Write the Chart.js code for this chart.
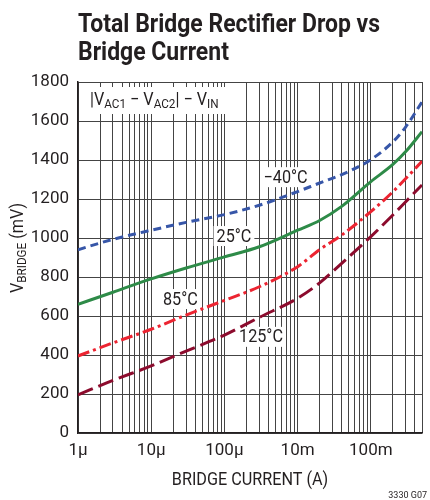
<!DOCTYPE html>
<html>
<head>
<meta charset="utf-8">
<script src="https://cdn.jsdelivr.net/npm/chart.js@4.4.1/dist/chart.umd.min.js"></script>
<style>
  html, body { margin: 0; padding: 0; background: #fff; }
  canvas { display: block; }
</style>
</head>
<body>
<canvas id="chart" width="430" height="500"></canvas>
<script>
// x position in decade steps, 1 = the "1µ" gridline
const currents = [1, 3, 10, 30, 100, 300, 1000, 2000, 4000, 10000, 20000, 30000, 50000];
const vMinus40 = [940, 993, 1040, 1080, 1120, 1168, 1238, 1282, 1325, 1402, 1493, 1570, 1698];
const v25 = [660, 722, 790, 846, 903, 955, 1040, 1090, 1162, 1289, 1377, 1443, 1545];
const v85 = [395, 462, 532, 605, 680, 750, 853, 940, 1015, 1135, 1237, 1305, 1393];
const v125 = [196, 270, 344, 420, 502, 593, 691, 770, 870, 1007, 1118, 1186, 1272];

const decades = [1, 10, 100, 1000, 10000];
const decadeLabels = ['1µ', '10µ', '100µ', '10m', '100m'];

const FONT = "Roboto, 'Liberation Sans', sans-serif";
const INK = '#231f20';
const SQUEEZE = 0.9; // condensed look for hand-drawn text

// temperature labels, placed in data units
const curveLabels = [
  { text: '−40°C', x: 685, y: 1312 },
  { text: '25°C', x: 135, y: 1010 },
  { text: '85°C', x: 25, y: 687 },
  { text: '125°C', x: 316, y: 493 }
];

function richText(ctx, parts, x, y) {
  let cx = x;
  parts.forEach(p => {
    ctx.font = (p.sub ? '13px ' : '18px ') + FONT;
    ctx.fillText(p.t, cx, p.sub ? y + 3 : y);
    cx += ctx.measureText(p.t).width;
  });
  return cx - x;
}
function richWidth(ctx, parts) {
  let w = 0;
  parts.forEach(p => {
    ctx.font = (p.sub ? '13px ' : '18px ') + FONT;
    w += ctx.measureText(p.t).width;
  });
  return w;
}
function squeezed(ctx, x, y, fn) {
  ctx.save();
  ctx.translate(x, y);
  ctx.scale(SQUEEZE, 1);
  fn();
  ctx.restore();
}

const textPlugin = {
  id: 'textPlugin',
  beforeDatasetsDraw(chart) {
    const { ctx, chartArea: a, scales: { x, y } } = chart;
    ctx.save();
    ctx.fillStyle = '#fff';
    ctx.fillRect(a.left + 1, a.top + 5, 154, 27);
    ctx.font = '18px ' + FONT;
    curveLabels.forEach(l => {
      const w = ctx.measureText(l.text).width * SQUEEZE;
      ctx.fillRect(x.getPixelForValue(l.x) - w / 2 - 3, y.getPixelForValue(l.y) - 10, w + 6, 20);
    });
    ctx.fillStyle = INK;
    ctx.textBaseline = 'alphabetic';
    squeezed(ctx, a.left + 12, a.top + 23, () => richText(ctx, [
      { t: '|V' }, { t: 'AC1', sub: true }, { t: ' − V' }, { t: 'AC2', sub: true },
      { t: '| − V' }, { t: 'IN', sub: true }
    ], 0, 0));
    ctx.font = '18px ' + FONT;
    ctx.textAlign = 'center';
    ctx.textBaseline = 'middle';
    curveLabels.forEach(l => {
      squeezed(ctx, x.getPixelForValue(l.x), y.getPixelForValue(l.y) + 1, () => ctx.fillText(l.text, 0, 0));
    });
    ctx.restore();
  },
  afterDraw(chart) {
    const { ctx, chartArea: a } = chart;
    ctx.save();
    ctx.fillStyle = INK;
    ctx.textBaseline = 'alphabetic';
    ctx.font = 'bold 26px ' + FONT;
    const line1 = 'Total Bridge Rectifier Drop vs';
    const sx = 302 / ctx.measureText(line1).width;
    [line1, 'Bridge Current'].forEach((t, i) => {
      ctx.save();
      ctx.translate(a.left, 32 + i * 28);
      ctx.scale(sx, 1);
      ctx.fillText(t, 0, 0);
      ctx.restore();
    });

    ctx.font = '18px ' + FONT;
    ctx.textAlign = 'center';
    squeezed(ctx, (a.left + a.right) / 2, 485, () => ctx.fillText('BRIDGE CURRENT (A)', 0, 0));

    ctx.textAlign = 'left';
    const yParts = [{ t: 'V' }, { t: 'BRIDGE', sub: true }, { t: ' (mV)' }];
    ctx.save();
    ctx.translate(23, 248);
    ctx.rotate(-Math.PI / 2);
    ctx.scale(SQUEEZE, 1);
    richText(ctx, yParts, -richWidth(ctx, yParts) / 2, 0);
    ctx.restore();

    ctx.font = '9px ' + FONT;
    ctx.textAlign = 'right';
    ctx.fillText('3330 G07', 427, 498);
    ctx.restore();
  }
};

Chart.defaults.font.family = FONT;
Chart.defaults.color = INK;

new Chart(document.getElementById('chart'), {
  type: 'line',
  data: {
    datasets: [
      { label: '−40°C', data: currents.map((c, i) => ({ x: c, y: vMinus40[i] })),
        borderColor: '#3756a8', borderDash: [8, 5] },
      { label: '25°C', data: currents.map((c, i) => ({ x: c, y: v25[i] })),
        borderColor: '#2e8b48' },
      { label: '85°C', data: currents.map((c, i) => ({ x: c, y: v85[i] })),
        borderColor: '#ec2431', borderDash: [12, 4, 3, 4] },
      { label: '125°C', data: currents.map((c, i) => ({ x: c, y: v125[i] })),
        borderColor: '#8c0b2d', borderDash: [16, 6] }
    ]
  },
  options: {
    responsive: false,
    animation: false,
    layout: { padding: { top: 82, right: 0, bottom: 0, left: 0 } },
    elements: {
      point: { radius: 0 },
      line: { borderWidth: 3, cubicInterpolationMode: 'monotone', fill: false }
    },
    plugins: { legend: { display: false }, tooltip: { enabled: false } },
    scales: {
      x: {
        type: 'logarithmic',
        min: 1,
        max: 50000,
        afterFit: s => { s.height = 67; },
        afterBuildTicks: s => {
          const t = [];
          decades.forEach(d => {
            for (let m = 1; m <= 9; m++) if (d * m <= 50000) t.push({ value: d * m });
          });
          s.ticks = t;
        },
        grid: { color: '#444', lineWidth: 1, drawTicks: false },
        border: { color: INK, width: 1.5 },
        ticks: {
          autoSkip: false,
          maxRotation: 0,
          padding: 8,
          font: { size: 17 },
          callback: v => {
            const i = decades.indexOf(v);
            return i >= 0 ? decadeLabels[i] : '';
          }
        }
      },
      y: {
        min: 0,
        max: 1800,
        afterFit: s => { s.width = 78; },
        grid: { color: '#444', lineWidth: 1, drawTicks: false },
        border: { color: INK, width: 1.5 },
        ticks: { stepSize: 200, padding: 9, font: { size: 17 }, callback: v => String(v) }
      }
    }
  },
  plugins: [textPlugin]
});
</script>
</body>
</html>
